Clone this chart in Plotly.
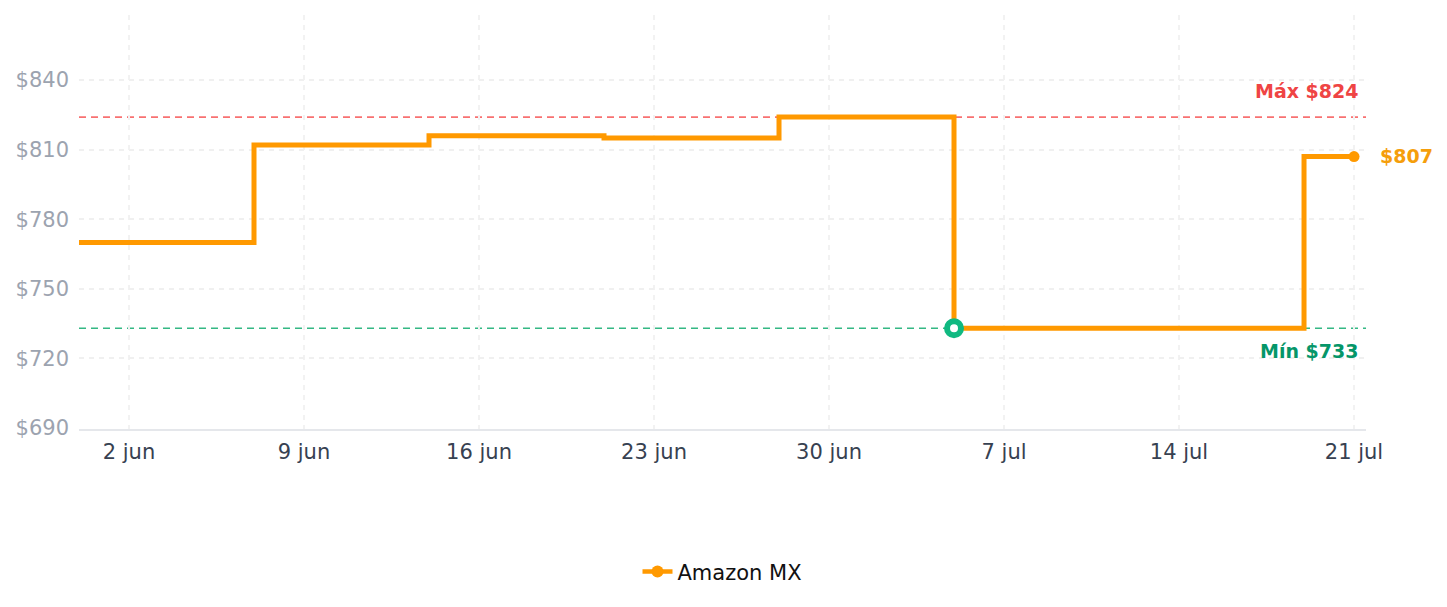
import plotly.graph_objects as go

# Data
dates = ["2024-05-31", "2024-06-07", "2024-06-14", "2024-06-21", "2024-06-28",
         "2024-07-05", "2024-07-19", "2024-07-21"]
prices = [770, 812, 816, 815, 824, 733, 807, 807]
series_name = "Amazon MX"
max_price = 824
min_price = 733
min_date = "2024-07-05"
last_date = "2024-07-21"
last_price = 807
tick_dates = ["2024-06-02", "2024-06-09", "2024-06-16", "2024-06-23", "2024-06-30",
              "2024-07-07", "2024-07-14", "2024-07-21"]
tick_labels = ["2 jun", "9 jun", "16 jun", "23 jun", "30 jun", "7 jul", "14 jul", "21 jul"]
y_ticks = [690, 720, 750, 780, 810, 840]
y_tick_labels = ["$690", "$720", "$750", "$780", "$810", "$840"]

ORANGE = "#FF9900"
FONT = "DejaVu Sans"

fig = go.Figure()

fig.add_trace(go.Scatter(
    x=dates, y=prices, mode="lines", line=dict(color=ORANGE, width=5, shape="hv"),
    showlegend=False, hoverinfo="skip"))

# last point marker
fig.add_trace(go.Scatter(
    x=[last_date], y=[last_price], mode="markers",
    marker=dict(color=ORANGE, size=11), showlegend=False))

# min marker
fig.add_trace(go.Scatter(
    x=[min_date], y=[min_price], mode="markers",
    marker=dict(color="white", size=14, line=dict(color="#10b981", width=6)),
    showlegend=False))

# legend entry
fig.add_trace(go.Scatter(
    x=[None], y=[None], mode="lines+markers", name=series_name,
    line=dict(color=ORANGE, width=4.5), marker=dict(color=ORANGE, size=12)))

fig.add_shape(type="line", xref="paper", x0=0, x1=1, yref="y", y0=max_price, y1=max_price,
              line=dict(color="#f87171", width=1.6, dash="7px,5px"), layer="below")
fig.add_shape(type="line", xref="paper", x0=0, x1=1, yref="y", y0=min_price, y1=min_price,
              line=dict(color="#34b884", width=1.6, dash="7px,5px"), layer="below")

fig.add_annotation(x=last_date, y=max_price, text=f"<b>Máx ${max_price}</b>", showarrow=False,
                   xanchor="right", yanchor="middle", xshift=6, yshift=26,
                   font=dict(family=FONT, size=19, color="#ef4444"))
fig.add_annotation(x=last_date, y=min_price, text=f"<b>Mín ${min_price}</b>", showarrow=False,
                   xanchor="right", yanchor="middle", xshift=6, yshift=-23,
                   font=dict(family=FONT, size=19, color="#059669"))
fig.add_annotation(x=last_date, y=last_price, text=f"<b>${last_price}</b>", showarrow=False,
                   xanchor="left", yanchor="middle", xshift=24, yshift=1,
                   font=dict(family=FONT, size=19, color="#f59e0b"))

fig.update_layout(
    width=1447, height=607,
    margin=dict(l=79, r=81, t=15, b=178),
    paper_bgcolor="white", plot_bgcolor="white",
    font=dict(family=FONT, size=21),
    showlegend=True,
    legend=dict(orientation="h", x=0.5, xanchor="center", y=-0.345, yanchor="middle",
                font=dict(family=FONT, size=21, color="#111111")),
    xaxis=dict(
        type="date", range=["2024-05-31", "2024-07-21 11:30"],
        tickvals=tick_dates, ticktext=tick_labels,
        tickfont=dict(color="#374151", size=21),
        showgrid=True, gridcolor="#f2f2f2", gridwidth=1.5, griddash="5px,5px",
        showline=True, linecolor="#e5e7eb", linewidth=2,
        zeroline=False, ticks="", ticklabelstandoff=3),
    yaxis=dict(
        range=[689.6, 868], tickvals=y_ticks, ticktext=y_tick_labels,
        tickfont=dict(color="#9ca3af", size=21),
        showgrid=True, gridcolor="#f0f0f0", gridwidth=1.5, griddash="5px,5px",
        showline=False, zeroline=False, ticks="", ticklabelstandoff=9),
)

fig.write_html("out.html")
